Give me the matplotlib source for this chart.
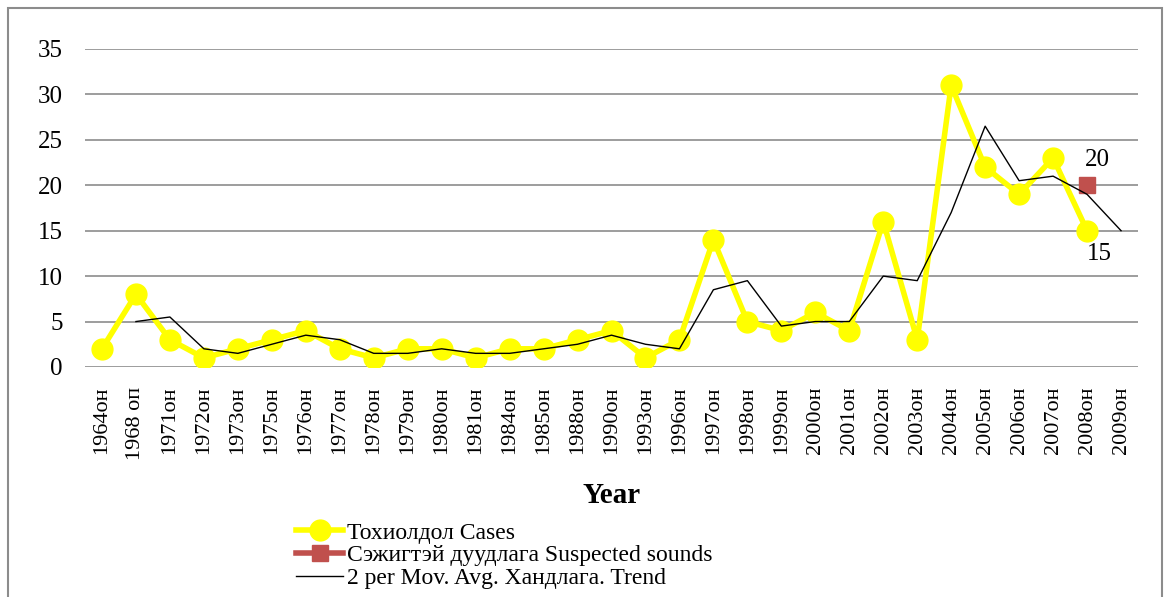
import matplotlib.pyplot as plt
import numpy as np
from matplotlib.patches import Rectangle

plt.rcParams['font.family'] = ['Liberation Serif', 'DejaVu Serif']

years = ['1964он', '1968 оп', '1971он', '1972он', '1973он', '1975он', '1976он',
         '1977он', '1978он', '1979он', '1980он', '1981он', '1984он', '1985он',
         '1988он', '1990он', '1993он', '1996он', '1997он', '1998он', '1999он',
         '2000он', '2001он', '2002он', '2003он', '2004он', '2005он', '2006он',
         '2007он', '2008он', '2009он']
cases = [2, 8, 3, 1, 2, 3, 4, 2, 1, 2, 2, 1, 2, 2, 3, 4, 1, 3, 14, 5, 4, 6, 4,
         16, 3, 31, 22, 19, 23, 15, np.nan]
suspected = [np.nan] * 29 + [20, np.nan]
trend = [np.nan, 5, 5.5, 2, 1.5, 2.5, 3.5, 3, 1.5, 1.5, 2, 1.5, 1.5, 2, 2.5,
         3.5, 2.5, 2, 8.5, 9.5, 4.5, 5, 5, 10, 9.5, 17, 26.5, 20.5, 21, 19, 15]

x = np.arange(len(years))

fig = plt.figure(figsize=(11.69, 5.97), dpi=100)
ax = fig.add_axes([0.0727, 0.3853, 0.9008, 0.5327])

# frame around the chart
fig.patches.append(Rectangle((8 / 1169, -0.01), 1154 / 1169, 1 - 8 / 597 + 0.01,
                             transform=fig.transFigure, fill=False,
                             edgecolor='#8c8c8c', linewidth=1.5))

ax.plot(x, cases, color='#FFFF00', linewidth=4, marker='o', markersize=15,
        label='Тохиолдол Cases', zorder=3)
ax.plot(x, suspected, color='#C0504D', linewidth=4, marker='s', markersize=11,
        label='Сэжигтэй дуудлага Suspected sounds', zorder=4)
ax.plot(x, trend, color='black', linewidth=1, label='2 per Mov. Avg. Хандлага. Trend',
        zorder=5)

ax.text(x[29] + 0.3, suspected[29] + 1.6, '20', fontsize=18, ha='center', va='bottom')
ax.text(x[29] + 0.35, cases[29] - 1.4, '15', fontsize=18, ha='center', va='top')

ax.set_xlim(-0.5, len(years) - 0.5)
ax.set_ylim(0, 35)
ax.set_yticks(range(0, 36, 5))
ax.set_xticks(x)
ax.set_xticklabels(years, rotation=90, fontsize=16)
ax.tick_params(axis='y', labelsize=18, length=0, pad=16)
ax.tick_params(axis='x', length=0, pad=14)
ax.grid(axis='y', color='#8c8c8c', linewidth=1.2)
ax.set_axisbelow(True)
for s in ax.spines.values():
    s.set_visible(False)

ax.set_xlabel('Year', fontsize=21, fontweight='bold', labelpad=16)

fig.legend(loc='upper left', bbox_to_anchor=(296 / 1169, 1 - 522 / 597), frameon=False,
           fontsize=17, handlelength=2.0, handletextpad=0.15, labelspacing=0.06,
           borderpad=0, borderaxespad=0)

fig.savefig('out.png', dpi=100)
